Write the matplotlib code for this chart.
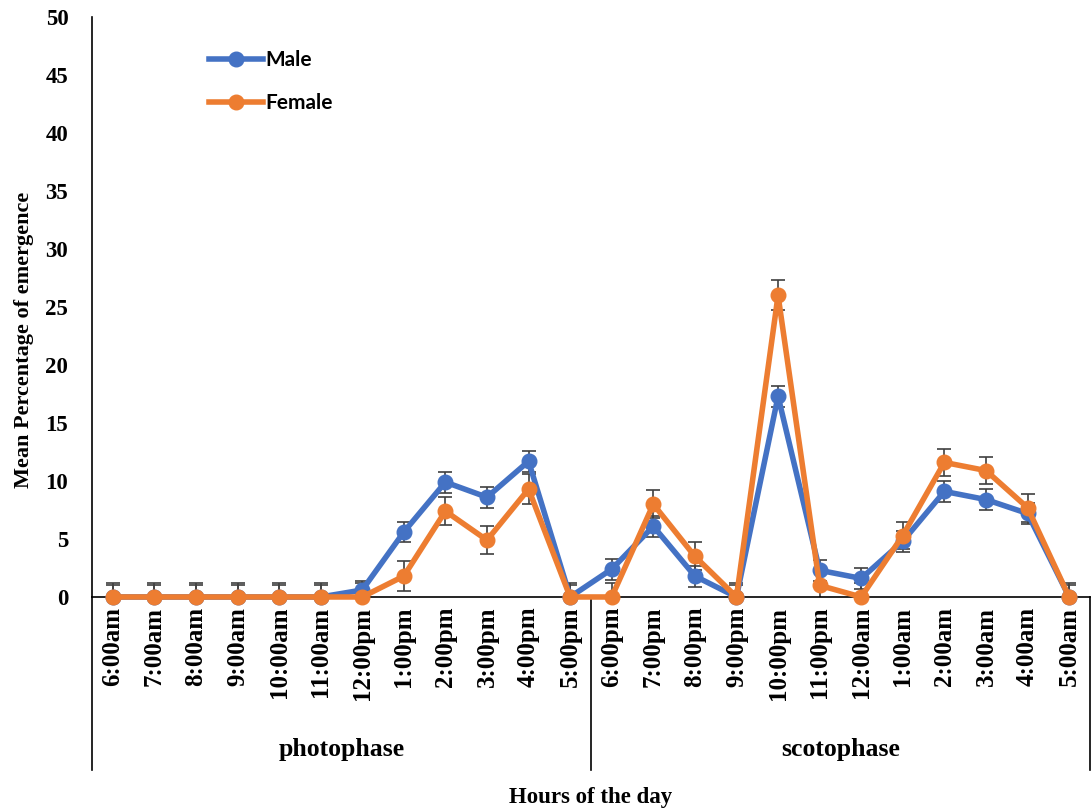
import matplotlib
matplotlib.use("Agg")
import matplotlib.pyplot as plt
import numpy as np

hours = ["6:00am", "7:00am", "8:00am", "9:00am", "10:00am", "11:00am",
         "12:00pm", "1:00pm", "2:00pm", "3:00pm", "4:00pm", "5:00pm",
         "6:00pm", "7:00pm", "8:00pm", "9:00pm", "10:00pm", "11:00pm",
         "12:00am", "1:00am", "2:00am", "3:00am", "4:00am", "5:00am"]
phases = ["photophase", "scotophase"]

male = [0, 0, 0, 0, 0, 0, 0.6, 5.6, 9.9, 8.6, 11.7, 0,
        2.4, 6.1, 1.8, 0, 17.3, 2.3, 1.6, 4.8, 9.1, 8.4, 7.2, 0]
male_se = [1.0, 1.0, 1.0, 1.0, 1.0, 1.0, 0.8, 0.9, 0.9, 0.9, 0.9, 1.0,
           0.9, 0.9, 0.9, 1.0, 0.9, 0.9, 0.9, 0.9, 0.9, 0.9, 0.9, 1.0]
female = [0, 0, 0, 0, 0, 0, 0, 1.8, 7.4, 4.9, 9.3, 0,
          0, 8.0, 3.5, 0, 26.0, 1.0, 0, 5.3, 11.6, 10.9, 7.7, 0]
female_se = [1.2, 1.2, 1.2, 1.2, 1.2, 1.2, 1.2, 1.3, 1.2, 1.2, 1.3, 1.2,
             1.2, 1.2, 1.2, 1.2, 1.3, 1.2, 1.2, 1.2, 1.2, 1.2, 1.2, 1.2]

BLUE = "#4472C4"
ORANGE = "#ED7D31"
SERIF = "Liberation Serif"

fig = plt.figure(figsize=(10.91, 8.11), dpi=100)
ax = fig.add_axes([0.0843, 0.2639, 0.9147, 0.7151])

x = np.arange(len(hours))
for vals, se, col, name in [(male, male_se, BLUE, "Male"),
                            (female, female_se, ORANGE, "Female")]:
    ax.errorbar(x, vals, yerr=se, fmt="none", ecolor="#404040",
                elinewidth=1.2, capsize=5, capthick=1.2, zorder=2)
    ax.plot(x, vals, color=col, lw=4, marker="o", ms=10.5,
            label=name, clip_on=False, zorder=3)

ax.set_xlim(-0.5, len(hours) - 0.5)
ax.set_ylim(0, 50)
ax.set_yticks(np.arange(0, 51, 5))
ax.tick_params(axis="y", length=0, pad=17)
ax.tick_params(axis="x", length=0, pad=7)
for lab in ax.get_yticklabels():
    lab.set_fontfamily(SERIF)
    lab.set_fontweight("bold")
    lab.set_fontsize(16.5)
ax.set_xticks(x)
ax.set_xticklabels(hours, rotation=90, fontfamily=SERIF,
                   fontweight="bold", fontsize=18, va="top")

for s in ["top", "right"]:
    ax.spines[s].set_visible(False)
ax.spines["left"].set_linewidth(1.2)
ax.spines["bottom"].set_linewidth(1.2)

# category group separators under the axis
for xs in [0.0, 0.5, 1.0]:
    ax.plot([xs, xs], [0, -0.298], transform=ax.transAxes, color="black",
            lw=1.2, clip_on=False)
for i, ph in enumerate(phases):
    ax.text(0.25 + 0.5 * i, -0.263, ph, transform=ax.transAxes,
            ha="center", va="center", fontfamily=SERIF,
            fontweight="bold", fontsize=18.5)

ax.text(0.5, -0.345, "Hours of the day", transform=ax.transAxes,
        ha="center", va="center", fontfamily=SERIF, fontweight="bold",
        fontsize=16.5)
ax.set_ylabel("Mean Percentage of emergence", fontfamily=SERIF,
              fontweight="bold", fontsize=16)
ax.yaxis.set_label_coords(-0.058, 0.443)

leg = ax.legend(loc="upper left", bbox_to_anchor=(0.098, 0.975),
                frameon=False, handlelength=2.6, handletextpad=0.15,
                labelspacing=1.1, prop={"family": "Lato", "weight": "bold",
                                        "size": 15})

fig.savefig("out.png", dpi=100)
